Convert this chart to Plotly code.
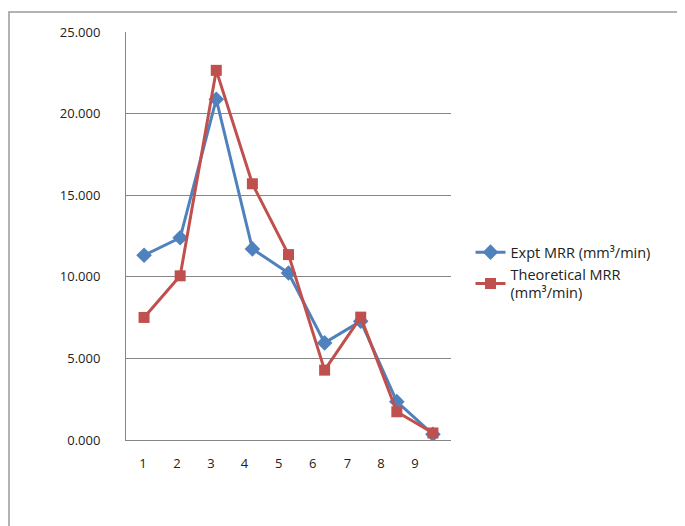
import plotly.graph_objects as go

runs = [1, 2, 3, 4, 5, 6, 7, 8, 9]
expt_mrr = [11.32, 12.39, 20.88, 11.71, 10.23, 5.95, 7.28, 2.35, 0.35]
theo_mrr = [7.51, 10.06, 22.65, 15.70, 11.36, 4.28, 7.53, 1.73, 0.43]
x_tick_labels = ["1", "2", "3", "4", "5", "6", "7", "8", "9"]
x_tick_pos = [0.97, 1.91, 2.85, 3.78, 4.73, 5.67, 6.63, 7.56, 8.50]
y_ticks = [0, 5, 10, 15, 20, 25]

font_family = "Open Sans, Liberation Sans, sans-serif"
txt = "#222222"

fig = go.Figure()
fig.add_trace(go.Scatter(
    x=runs, y=expt_mrr, mode="lines+markers",
    name="Expt MRR (mm³/min)",
    line=dict(color="#4F81BD", width=3),
    marker=dict(symbol="diamond", size=12, color="#4F81BD"),
))
fig.add_trace(go.Scatter(
    x=runs, y=theo_mrr, mode="lines+markers",
    name="Theoretical MRR<br>(mm³/min)",
    line=dict(color="#C0504D", width=3),
    marker=dict(symbol="square", size=11, color="#C0504D"),
))

fig.update_layout(
    width=685, height=526,
    margin=dict(l=118, r=242, t=24, b=94),
    paper_bgcolor="white", plot_bgcolor="white",
    font=dict(family=font_family, size=12, color=txt),
    showlegend=True,
    legend=dict(x=1.06, y=0.41, xanchor="left", yanchor="middle",
                font=dict(size=14.5, color=txt), bgcolor="rgba(0,0,0,0)",
                tracegroupgap=6),
    xaxis=dict(range=[0.5, 9.5], tickmode="array", tickvals=x_tick_pos,
               ticktext=x_tick_labels, showgrid=False, zeroline=False,
               showline=True, linecolor="#868686", linewidth=1,
               ticks="", ticklabelstandoff=11, tickfont=dict(size=13)),
    yaxis=dict(range=[0, 25], tickmode="array", tickvals=y_ticks,
               ticktext=[f"{v:.3f}" for v in y_ticks],
               showgrid=True, gridcolor="#868686", gridwidth=1,
               zeroline=False, showline=True, linecolor="#868686",
               linewidth=1, ticks="", ticklabelstandoff=22,
               tickfont=dict(size=13)),
)

fig.add_shape(type="rect", xref="paper", yref="paper",
              x0=-0.36, x1=2.0, y0=-1.0, y1=1.049,
              line=dict(color="#9a9a9a", width=1.5), fillcolor="rgba(0,0,0,0)",
              layer="below")

fig.write_html("out.html")
